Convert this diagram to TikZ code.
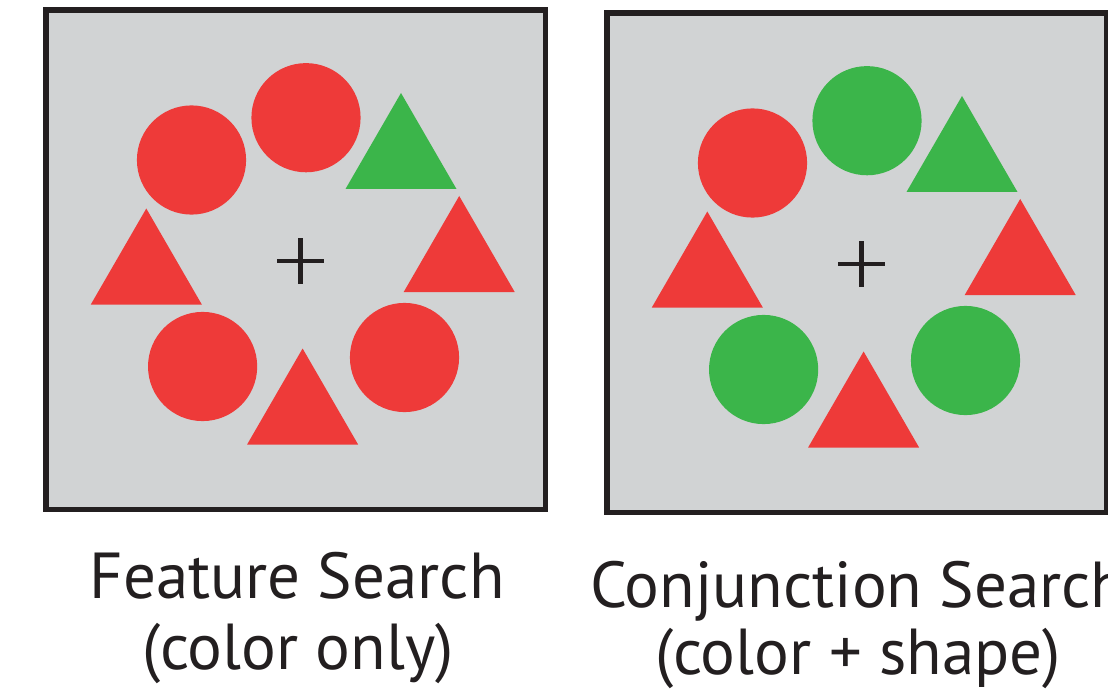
\documentclass[tikz,border=0pt]{standalone}
\usepackage{fontspec}
\setmainfont{PT Sans}
\definecolor{vred}{HTML}{EE3A39}
\definecolor{vgreen}{HTML}{3BB54A}
\definecolor{vgray}{HTML}{D1D3D4}
\definecolor{vink}{HTML}{231F20}
\tikzset{
  boxframe/.style={draw=vink, line width=3.1pt},
  fixcross/.style={draw=vink, line width=2.8pt},
  caption/.style={inner sep=0pt, outer sep=0pt, text=vink, font=\fontsize{37}{44}\selectfont},
}
\newcommand\vsTri[3]{\fill[#1] (#2-55.5,#3) -- (#2,#3-96) -- (#2+55.5,#3) -- cycle;}
\newcommand\vsDisc[3]{\fill[#1] (#2,#3) circle[radius=1.092cm];}
\newcommand\vsPanel[8]{%
  \fill[vgray] (46,10) rectangle (545.5,509.5);
  \vsDisc{#1}{191.5}{160}
  \vsDisc{#2}{306}{117.7}
  \vsTri{#3}{401}{189}
  \vsTri{#4}{459.2}{292}
  \vsTri{#5}{146.3}{304.5}
  \vsDisc{#6}{202.6}{366.5}
  \vsTri{#7}{302.6}{444.5}
  \vsDisc{#8}{404.5}{357.5}
  \path[fixcross] (277,261) -- (324,261) (300.5,238) -- (300.5,284);
  \path[boxframe] (46,10) rectangle (545.5,509.5);
}
\begin{document}
\begin{tikzpicture}[x=0.02cm, y=-0.02cm]
  \useasboundingbox (0,0) rectangle (1108,699);
  \fill[white] (0,0) rectangle (1108,699);
  \clip (0,0) rectangle (1108,699);
  \begin{scope}
    \vsPanel{vred}{vred}{vgreen}{vred}{vred}{vred}{vred}{vred}
  \end{scope}
  \begin{scope}[shift={(561,3)}]
    \vsPanel{vred}{vgreen}{vgreen}{vred}{vred}{vgreen}{vred}{vgreen}
  \end{scope}
  \node[caption, anchor=base] (feat) at (297,598) {Feature Search};
  \node[caption, anchor=base] (featsub) at (298,669) {(color only)};
  \node[caption, anchor=base west] (conj) at (590,607) {Conjunction Search};
  \node[caption, anchor=base] (conjsub) at (858,674) {(color + shape)};
\end{tikzpicture}
\end{document}
